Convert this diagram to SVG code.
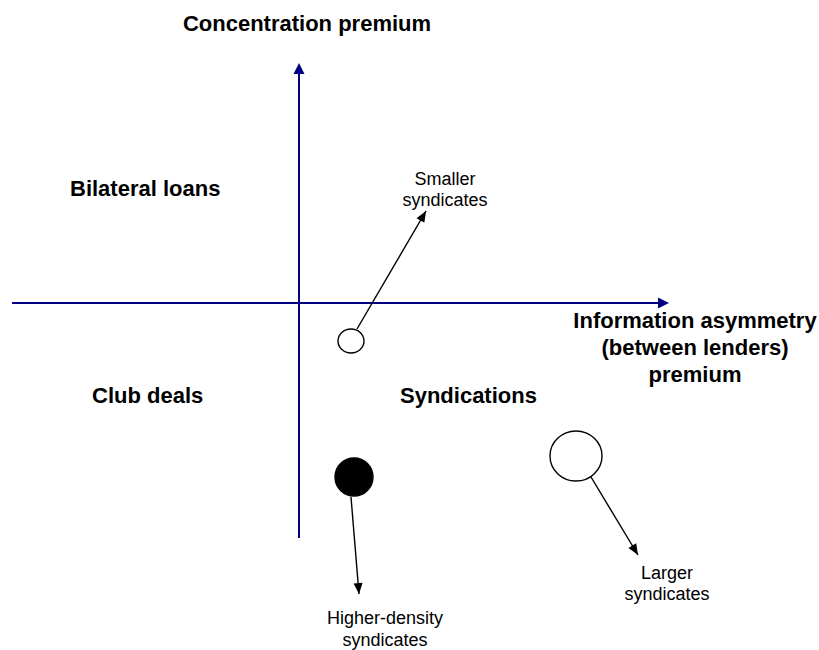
<svg xmlns="http://www.w3.org/2000/svg" width="819" height="650" viewBox="0 0 819 650">
<style>
.bold{font-family:"Liberation Sans",Arial,sans-serif;font-weight:bold;font-size:22px;fill:#000}
.lbl{font-family:"Liberation Sans",Arial,sans-serif;font-size:18px;fill:#000;text-anchor:middle}
.axis{stroke:#000080;stroke-width:2;fill:none}
.conn{stroke:#000;stroke-width:1.4;fill:none}
.node{stroke:#000;stroke-width:1.4}
</style>
<defs>
<marker id="axhead" markerUnits="userSpaceOnUse" markerWidth="12" markerHeight="12" refX="0" refY="5.5" orient="auto" overflow="visible">
<path d="M0,0 L11,5.5 L0,11 z" fill="#000080"/>
</marker>
<marker id="arrhead" markerUnits="userSpaceOnUse" markerWidth="12" markerHeight="10" refX="11" refY="4.5" orient="auto" overflow="visible">
<path d="M0,0 L11,4.5 L0,9 z" fill="#000"/>
</marker>
</defs>
<rect width="819" height="650" fill="#fff"/>
<g id="axes">
<line class="axis" x1="12" y1="303" x2="658" y2="303" marker-end="url(#axhead)"/>
<line class="axis" x1="299" y1="538" x2="299" y2="74" marker-end="url(#axhead)"/>
</g>
<g id="axis-labels">
<text class="bold" x="307" y="31" text-anchor="middle">Concentration premium</text>
<text class="bold" x="695" y="328" text-anchor="middle">Information asymmetry</text>
<text class="bold" x="695" y="355" text-anchor="middle">(between lenders)</text>
<text class="bold" x="695" y="382" text-anchor="middle">premium</text>
</g>
<g id="quadrant-labels">
<text class="bold" x="70" y="196">Bilateral loans</text>
<text class="bold" x="92" y="403">Club deals</text>
<text class="bold" x="400" y="403">Syndications</text>
</g>
<g id="node-small">
<ellipse class="node" cx="351" cy="341" rx="13" ry="12" fill="#fff"/>
</g>
<g id="node-dense">
<circle class="node" cx="354" cy="477" r="19" fill="#000"/>
</g>
<g id="node-large">
<ellipse class="node" cx="576" cy="456" rx="26" ry="25" fill="#fff"/>
</g>
<g id="connectors">
<line class="conn" x1="357" y1="329" x2="426" y2="211" marker-end="url(#arrhead)"/>
<line class="conn" x1="351" y1="497" x2="359" y2="594" marker-end="url(#arrhead)"/>
<line class="conn" x1="591" y1="477" x2="638" y2="555" marker-end="url(#arrhead)"/>
</g>
<g id="label-smaller">
<text class="lbl" x="445" y="185">Smaller</text>
<text class="lbl" x="445" y="206">syndicates</text>
</g>
<g id="label-dense">
<text class="lbl" x="385" y="624">Higher-density</text>
<text class="lbl" x="385" y="646">syndicates</text>
</g>
<g id="label-larger">
<text class="lbl" x="667" y="579">Larger</text>
<text class="lbl" x="667" y="600">syndicates</text>
</g>
</svg>
